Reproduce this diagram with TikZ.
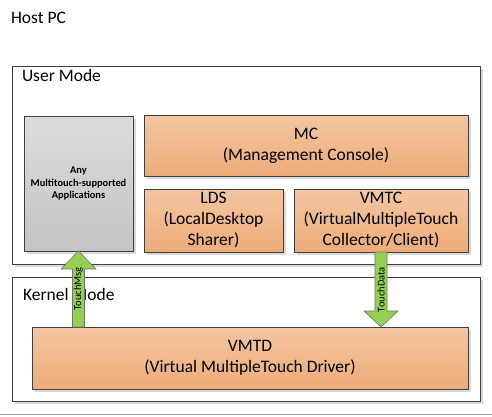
\documentclass[tikz,border=0pt]{standalone}
\usepackage{fontspec}
\setmainfont{Carlito}
\usetikzlibrary{shadows,calc}

\definecolor{boxline}{RGB}{64,64,64}
\definecolor{orangetop}{RGB}{244,198,160}
\definecolor{orangebot}{RGB}{237,171,120}
\definecolor{graytop}{RGB}{220,220,220}
\definecolor{graybot}{RGB}{196,196,196}
\definecolor{arrowgreen}{RGB}{146,208,80}

\begin{document}
\begin{tikzpicture}[x=1pt, y=-1pt,
    every node/.style={inner sep=0pt, outer sep=0pt},
    boxshadow/.style={drop shadow={shadow xshift=3pt, shadow yshift=-3pt, fill=black!15, opacity=1}},
    container/.style={draw=boxline, fill=white, rectangle, anchor=north west, boxshadow},
    module/.style={draw=boxline, rectangle, anchor=north west, align=center, top color=orangetop, bottom color=orangebot, font=\fontsize{17.5}{21}\selectfont, boxshadow},
    appbox/.style={draw=boxline, rectangle, anchor=north west, align=center, top color=graytop, bottom color=graybot, font=\bfseries\fontsize{10.4}{12.5}\selectfont, boxshadow},
    title/.style={anchor=base west, font=\fontsize{17.5}{21}\selectfont},
    fatarrow/.style={draw=black!55, fill=arrowgreen, line width=0.6pt, line join=miter},
    arrowlabel/.style={rotate=90, font=\fontsize{10.5}{12}\selectfont}]
    \useasboundingbox (0,0) rectangle (492,416);

    % Host PC
    \node[title] (host) at (11,23) {Host PC};
    \draw[black!35] (0,414) -- (492,414);

    % Containers
    \node[container, minimum width=468pt, minimum height=198pt] (user) at (12,66) {};
    \node[container, minimum width=468pt, minimum height=124pt] (kernel) at (12,277) {};
    \node[title] (usertitle) at (22,81) {User Mode};
    \node[title] (kerneltitle) at (23,300) {Kernel Mode};

    % User mode modules
    \node[appbox, minimum width=109pt, minimum height=135pt] (apps) at (24,116) {Any\\Multitouch-supported\\Applications};
    \node[module, minimum width=324pt, minimum height=61pt] (mc) at (144,115) {MC\\(Management Console)};
    \node[module, minimum width=139pt, minimum height=63pt] (lds) at (144,189) {LDS\\(LocalDesktop\\Sharer)};
    \node[module, minimum width=174pt, minimum height=63pt] (vmtc) at (294,189) {VMTC\\(VirtualMultipleTouch\\Collector/Client)};

    % Kernel mode module
    \node[module, minimum width=436pt, minimum height=62pt] (vmtd) at (32,327) {VMTD\\(Virtual MultipleTouch Driver)};

    % Arrows
    \coordinate (msgtip) at (apps.south);
    \coordinate (msgbase) at (apps.south |- vmtd.north);
    \draw[fatarrow] ($(msgbase)+(-6,0)$) -- ($(msgtip)+(-6,18)$) -- ($(msgtip)+(-17.5,18)$) -- (msgtip)
        -- ($(msgtip)+(17.5,18)$) -- ($(msgtip)+(6,18)$) -- ($(msgbase)+(6,0)$) -- cycle;
    \node[arrowlabel] (touchmsg) at ($(msgtip)!0.5!(msgbase)$) {TouchMsg};

    \coordinate (datastart) at (vmtc.south);
    \coordinate (datatip) at (vmtc.south |- vmtd.north);
    \draw[fatarrow] ($(datastart)+(-6,0)$) -- ($(datatip)+(-6,-16)$) -- ($(datatip)+(-17,-16)$) -- (datatip)
        -- ($(datatip)+(17,-16)$) -- ($(datatip)+(6,-16)$) -- ($(datastart)+(6,0)$) -- cycle;
    \node[arrowlabel] (touchdata) at ($(datastart)!0.5!(datatip)$) {TouchData};
\end{tikzpicture}
\end{document}
